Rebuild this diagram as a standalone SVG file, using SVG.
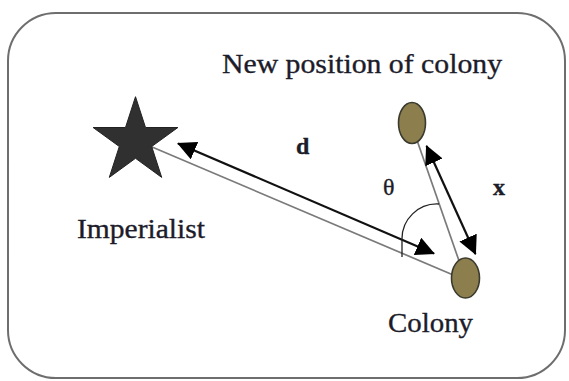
<svg xmlns="http://www.w3.org/2000/svg" width="569" height="381" viewBox="0 0 569 381">
  <style>
    .lbl { font-family: "Liberation Serif", "Times New Roman", serif; fill: #1c1c2a; stroke: #1c1c2a; stroke-width: 0.35; }
    .big { font-size: 28px; }
    .sym { font-size: 24px; }
    .gray { stroke: #7a7a7a; stroke-width: 1.7; fill: none; }
    .arrow { stroke: #111; stroke-width: 2.2; fill: none; marker-start: url(#head); marker-end: url(#head); }
    .arc { stroke: #222; stroke-width: 1.3; fill: none; }
    .col { fill: #8c7f4d; stroke: #3a3a2e; stroke-width: 1.6; }
  </style>
  <defs>
    <marker id="head" viewBox="0 0 19 19" refX="18" refY="9.5" markerWidth="19" markerHeight="19" markerUnits="userSpaceOnUse" orient="auto-start-reverse">
      <path d="M0,0 L19,9.5 L0,19 Z" fill="#000"/>
    </marker>
  </defs>

  <rect x="8" y="13" width="557" height="365" rx="48" ry="48" fill="#fff" stroke="#6e6e6e" stroke-width="2"/>

  <g id="connectors">
    <line class="gray" x1="145" y1="144" x2="465" y2="280"/>
    <line class="gray" x1="411" y1="123" x2="465" y2="278"/>
    <line class="arrow" x1="178" y1="143.5" x2="434" y2="253.5"/>
    <line class="arrow" x1="426.5" y1="146" x2="475.5" y2="254"/>
    <path class="arc" d="M402,257 L402,240 A35,35 0 0 1 439,204"/>
  </g>

  <g id="imperialist">
    <polygon points="135.5,96.7 145.5,127.5 177.9,127.5 151.7,146.5 161.7,177.4 135.5,158.3 109.3,177.4 119.3,146.5 93.1,127.5 125.5,127.5" fill="#303030" stroke="#222" stroke-width="1"/>
    <text class="lbl big" x="77" y="238" textLength="128" lengthAdjust="spacingAndGlyphs">Imperialist</text>
  </g>

  <g id="new-colony">
    <ellipse class="col" cx="412" cy="123" rx="13.5" ry="20.5"/>
    <text class="lbl big" x="222" y="73" textLength="280" lengthAdjust="spacingAndGlyphs">New position of colony</text>
  </g>

  <g id="colony">
    <ellipse class="col" cx="465.5" cy="278" rx="14" ry="20"/>
    <text class="lbl big" x="388" y="332" textLength="85" lengthAdjust="spacingAndGlyphs">Colony</text>
  </g>

  <g id="labels">
    <text class="lbl sym" x="296" y="154" font-weight="bold">d</text>
    <text class="lbl sym" x="383" y="195">θ</text>
    <text class="lbl sym" x="493" y="195" font-weight="bold">x</text>
  </g>
</svg>
